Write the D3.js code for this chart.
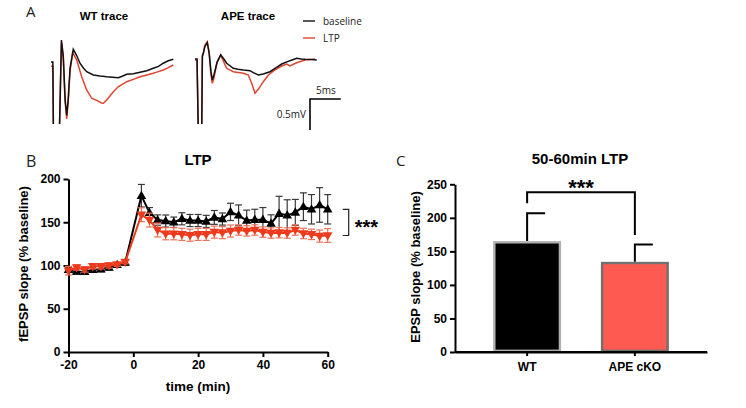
<!DOCTYPE html>
<html>
<head>
<meta charset="utf-8">
<script src="https://cdn.jsdelivr.net/npm/d3@7"></script>
<style>
body { margin: 0; background: #fff; }
text { font-family: "Liberation Sans", Arial, sans-serif; }
.thin { font-family: "Open Sans", "Noto Sans", sans-serif; fill: #222; }
.axis path, .axis line { stroke: #000; stroke-width: 2px; }
.axis text { font-size: 12px; font-weight: bold; fill: #000; }
</style>
</head>
<body>
<div id="chart"></div>
<script>
var w = 746;
var h = 408;

// panel A traces: [ms, mV]
var wtBaseTrace = [[0,0],[0.3,0],[0.4,-1.2],[1.35,-1.2],[1.7,0.355],[2.0,0.1],[2.3,-0.6],[2.56,-0.86],[2.8,-0.6],[3.1,-0.1],[3.63,0.205],[4.2,0.1],[4.72,-0.02],[5.3,-0.1],[5.81,-0.156],[6.89,-0.21],[8,-0.225],[9.07,-0.237],[10,-0.245],[10.96,-0.253],[11.6,-0.23],[12.33,-0.198],[13.4,-0.19],[14.5,-0.166],[15.6,-0.14],[16.66,-0.10],[17.5,-0.07],[18.29,-0.02],[19.1,0.02],[19.92,0.044]];
var wtLtpTrace = [[0,-0.07],[0.3,-0.07],[0.4,-1.2],[1.35,-1.2],[1.7,0.31],[2.0,0.05],[2.3,-0.65],[2.56,-0.92],[2.8,-0.65],[3.1,-0.15],[3.53,0.15],[4.19,0.03],[5.0,-0.237],[5.81,-0.45],[6.63,-0.585],[7.7,-0.63],[8.2,-0.66],[8.52,-0.666],[9.07,-0.613],[10.15,-0.48],[10.96,-0.40],[12.33,-0.318],[13.4,-0.28],[14.5,-0.237],[15.6,-0.21],[16.66,-0.182],[17.5,-0.155],[18.29,-0.129],[19.1,-0.09],[19.92,-0.048]];
var apeBaseTrace = [[0,0],[0.33,0],[0.54,-1.2],[1.09,-1.2],[1.2,0.05],[1.35,0.092],[1.6,0.2],[2.0,0.263],[2.3,0.1],[2.6,-0.2],[2.82,-0.339],[3.1,-0.25],[3.6,-0.05],[4.19,0.065],[4.7,0.0],[5.16,-0.069],[6.24,-0.15],[7.0,-0.165],[7.87,-0.177],[8.96,-0.189],[9.5,-0.221],[10.31,-0.258],[11.12,-0.242],[12.21,-0.205],[13.03,-0.15],[14.12,-0.081],[15.47,-0.027],[16.56,0.011],[17.3,0.0],[17.92,-0.005],[19.0,-0.01],[19.82,-0.016]];
var apeLtpTrace = [[0,-0.016],[0.33,-0.016],[0.54,-1.2],[1.09,-1.2],[1.2,0.04],[1.35,0.08],[1.6,0.22],[2.0,0.279],[2.3,0.1],[2.6,-0.25],[2.82,-0.392],[3.1,-0.3],[3.6,-0.05],[4.19,0.065],[4.7,-0.05],[5.16,-0.15],[6.24,-0.205],[7.87,-0.231],[8.68,-0.258],[9.23,-0.392],[9.77,-0.553],[10.31,-0.489],[11.12,-0.366],[11.94,-0.258],[13.03,-0.177],[14.12,-0.113],[14.93,-0.081],[15.47,-0.113],[16.56,-0.06],[17.92,-0.016],[18.8,-0.01],[19.54,0]];

// panel B time course
var bTime = [-20,-17.5,-15,-12.5,-10,-7.5,-5,-2.5,2.5,5,7.5,10,12.5,15,17.5,20,22.5,25,27.5,30,32.5,35,37.5,40,42.5,45,47.5,50,52.5,55,57.5,60];
var wtMean = [95,93,92.7,95,95.8,97.7,100.8,103.5,180.7,161,152.5,151.4,150,154,152,152,151,155.6,153.7,162,158,152,153,153,148.6,160,158,161.4,168,165,170,165];
var wtSem = [3,3,3,3,3,3,2,3,13,6,6,7,6,7,7,7,7,8,7,10,12,12,12,14,10,20,18,15,16,17,20,17];
var apeMean = [94,97.7,95.4,99,99,100,101,104,158.7,152.5,141,136.7,136.7,136,135,136,136,138.6,138,139.8,141,140,141,138.6,137.5,138,137.5,141,137,136,134,134.7];
var apeSem = [5,3,3,3,3,3,2,2,8,8,8,7,7,7,7,7,7,7,7,7,6,6,6,6,6,6,6,6,6,6,7,8];
var bTicksX = [-20,0,20,40,60];
var bTicksY = [0,50,100,150,200];

// panel C bars
var cGroups = ["WT","APE cKO"];
var cMeans = [165.3,134.4];
var cSems = [41.4,26];
var cTicksY = [0,50,100,150,200,250];

var black = "#000";
var red = "#ee3a1c";
var redTrace = "#e0452d";

var svg = d3.select("#chart")
			.append("svg")
			.attr("width", w)
			.attr("height", h);

// ---------- panel A ----------
svg.append("text").attr("class", "thin").attr("x", 26).attr("y", 17)
	.style("font-size", "15px").text("A");

svg.append("defs").append("clipPath").attr("id", "clipA")
	.append("rect").attr("x", 0).attr("y", 0).attr("width", 360).attr("height", 124);

var xT = d3.scaleLinear().domain([0, 20]).range([0, 122.8]);
var yT = d3.scaleLinear().domain([0, 1]).range([0, -62]);
var traceLine = d3.line()
	.x(function(d) { return xT(d[0]); })
	.y(function(d) { return yT(d[1]); });

function drawTrace(x0, y0, base, ltp) {
	var g = svg.append("g").attr("clip-path", "url(#clipA)")
		.append("g").attr("transform", "translate(" + x0 + "," + y0 + ")");
	g.append("path").datum(ltp).attr("d", traceLine)
		.attr("fill", "none").attr("stroke", redTrace).attr("stroke-width", 1.5);
	g.append("path").datum(base).attr("d", traceLine)
		.attr("fill", "none").attr("stroke", "#111").attr("stroke-width", 1.5);
}
drawTrace(51, 62, wtBaseTrace, wtLtpTrace);
drawTrace(195, 59, apeBaseTrace, apeLtpTrace);

svg.append("text").attr("x", 104).attr("y", 20).attr("text-anchor", "middle")
	.style("font-size", "11.5px").style("font-weight", "bold").text("WT trace");
svg.append("text").attr("x", 248).attr("y", 20).attr("text-anchor", "middle")
	.style("font-size", "11.5px").style("font-weight", "bold").text("APE trace");

// legend
svg.append("line").attr("x1", 303).attr("x2", 315).attr("y1", 21).attr("y2", 21)
	.attr("stroke", "#111").attr("stroke-width", 1.4);
svg.append("text").attr("class", "thin").attr("x", 323).attr("y", 25)
	.style("font-size", "10px").text("baseline");
svg.append("line").attr("x1", 303).attr("x2", 315).attr("y1", 38).attr("y2", 38)
	.attr("stroke", redTrace).attr("stroke-width", 1.4);
svg.append("text").attr("class", "thin").attr("x", 323).attr("y", 42)
	.style("font-size", "10px").text("LTP");

// scale bar
var sbX = 310, sbY = 99;
svg.append("path")
	.attr("d", "M" + (sbX + xT(5)) + "," + sbY + "H" + sbX + "V" + (sbY - yT(0.5)))
	.attr("fill", "none").attr("stroke", "#000").attr("stroke-width", 1.6);
svg.append("text").attr("class", "thin").attr("x", sbX + xT(5) / 2 + 0.5).attr("y", sbY - 5)
	.attr("text-anchor", "middle").style("font-size", "10px").text("5ms");
svg.append("text").attr("class", "thin").attr("x", sbX - 4).attr("y", sbY - yT(0.5) / 2 + 3.5)
	.attr("text-anchor", "end").style("font-size", "10px").text("0.5mV");

// ---------- panel B ----------
var xB = d3.scaleLinear().domain([-20, 60]).range([68.5, 327.7]);
var yB = d3.scaleLinear().domain([0, 200]).range([352, 179]);

svg.append("g").attr("class", "axis")
	.attr("transform", "translate(0," + yB(0) + ")")
	.call(d3.axisBottom(xB).tickValues(bTicksX).tickFormat(function(d) { return String(d); })
		.tickSize(5).tickSizeOuter(0).tickPadding(3));
svg.append("g").attr("class", "axis")
	.attr("transform", "translate(" + xB(-20) + ",0)")
	.call(d3.axisLeft(yB).tickValues(bTicksY).tickSize(5).tickSizeOuter(0).tickPadding(3));

svg.append("text").attr("class", "thin").attr("x", 26).attr("y", 167)
	.style("font-size", "16px").text("B");
svg.append("text").attr("x", 198).attr("y", 165).attr("text-anchor", "middle")
	.style("font-size", "15px").style("font-weight", "bold").text("LTP");
svg.append("text").attr("x", 198).attr("y", 391).attr("text-anchor", "middle")
	.style("font-size", "13.5px").style("font-weight", "bold").text("time (min)");
svg.append("text").attr("transform", "translate(28,264) rotate(-90)")
	.attr("text-anchor", "middle")
	.style("font-size", "13px").style("font-weight", "bold").text("fEPSP slope (% baseline)");

function drawSeries(mean, sem, color, errColor, rot) {
	var pts = bTime.map(function(t, i) { return { t: t, m: mean[i], s: sem[i] }; });
	var g = svg.append("g");
	var eb = g.selectAll(".eb").data(pts).enter().append("g")
		.attr("stroke", errColor).attr("stroke-width", 1.2);
	eb.append("line")
		.attr("x1", function(d) { return xB(d.t); })
		.attr("x2", function(d) { return xB(d.t); })
		.attr("y1", function(d) { return yB(d.m - d.s); })
		.attr("y2", function(d) { return yB(d.m + d.s); });
	[-1, 1].forEach(function(sg) {
		eb.append("line")
			.attr("x1", function(d) { return xB(d.t) - 3.5; })
			.attr("x2", function(d) { return xB(d.t) + 3.5; })
			.attr("y1", function(d) { return yB(d.m + sg * d.s); })
			.attr("y2", function(d) { return yB(d.m + sg * d.s); });
	});
	var line = d3.line()
		.x(function(d) { return xB(d.t); })
		.y(function(d) { return yB(d.m); });
	g.append("path").datum(pts).attr("d", line)
		.attr("fill", "none").attr("stroke", color).attr("stroke-width", 2);
	g.selectAll(".mk").data(pts).enter().append("path")
		.attr("d", d3.symbol().type(d3.symbolTriangle).size(40))
		.attr("fill", color)
		.attr("transform", function(d) {
			return "translate(" + xB(d.t) + "," + (yB(d.m) + (rot ? -0.5 : 0.5)) + ") rotate(" + rot + ")";
		});
}
drawSeries(wtMean, wtSem, black, "#3a3a3a", 0);
drawSeries(apeMean, apeSem, red, "#f07058", 180);

// significance bracket B
var last = bTime.length - 1;
var bx = xB(60) + 21;
svg.append("path")
	.attr("d", "M" + (bx - 6) + "," + yB(wtMean[last]) + "H" + bx + "V" + yB(apeMean[last]) + "H" + (bx - 6))
	.attr("fill", "none").attr("stroke", "#222").attr("stroke-width", 1.2);
svg.append("text").attr("x", bx + 6).attr("y", (yB(wtMean[last]) + yB(apeMean[last])) / 2 + 11.5)
	.style("font-size", "20px").style("font-weight", "bold").text("***");

// ---------- panel C ----------
var xC = d3.scaleBand().domain(cGroups).range([455, 707]).paddingInner(0.369).paddingOuter(0.354);
var yC = d3.scaleLinear().domain([0, 250]).range([352, 184.3]);

svg.append("g").attr("class", "axis")
	.attr("transform", "translate(0," + yC(0) + ")")
	.call(d3.axisBottom(xC).tickSize(4).tickSizeOuter(0).tickPadding(6));
svg.append("g").attr("class", "axis")
	.attr("transform", "translate(455,0)")
	.call(d3.axisLeft(yC).tickValues(cTicksY).tickSize(5).tickSizeOuter(0).tickPadding(3));

svg.append("text").attr("class", "thin").attr("x", 396).attr("y", 166)
	.style("font-size", "15px").text("C");
svg.append("text").attr("x", 580).attr("y", 164).attr("text-anchor", "middle")
	.style("font-size", "15px").style("font-weight", "bold").text("50-60min LTP");
svg.append("text").attr("transform", "translate(420,267) rotate(-90)")
	.attr("text-anchor", "middle")
	.style("font-size", "13px").style("font-weight", "bold").text("EPSP slope (% baseline)");

var barFill = ["#000", "#ff5a52"];
var barStroke = ["#b0b0b0", "#707070"];
var cx = function(i) { return xC(cGroups[i]) + xC.bandwidth() / 2; };

svg.selectAll(".errC").data(cGroups).enter().append("path")
	.attr("d", function(d, i) {
		var top = yC(cMeans[i] + cSems[i]);
		return "M" + cx(i) + "," + yC(cMeans[i]) + "V" + top + "H" + (cx(i) + 18);
	})
	.attr("fill", "none").attr("stroke", "#000").attr("stroke-width", 2);

svg.selectAll(".bar").data(cGroups).enter().append("rect")
	.attr("x", function(d) { return xC(d) + 1.2; })
	.attr("y", function(d, i) { return yC(cMeans[i]) + 1.2; })
	.attr("width", xC.bandwidth() - 2.4)
	.attr("height", function(d, i) { return yC(0) - yC(cMeans[i]) - 2.4; })
	.attr("fill", function(d, i) { return barFill[i]; })
	.attr("stroke", function(d, i) { return barStroke[i]; })
	.attr("stroke-width", 2.4);

// redraw x axis line over bar bottoms
svg.append("line").attr("x1", 455).attr("x2", 707).attr("y1", yC(0)).attr("y2", yC(0))
	.attr("stroke", "#000").attr("stroke-width", 2);

// significance bracket C
var sTop = yC(238);
svg.append("path")
	.attr("d", "M" + cx(0) + "," + yC(cMeans[0] + cSems[0] + 15) + "V" + sTop + "H" + cx(1) + "V" + yC(cMeans[1] + cSems[1] + 14))
	.attr("fill", "none").attr("stroke", "#000").attr("stroke-width", 2);
svg.append("text").attr("x", (cx(0) + cx(1)) / 2).attr("y", sTop + 3)
	.attr("text-anchor", "middle")
	.style("font-size", "22px").style("font-weight", "bold").text("***");
</script>
</body>
</html>
